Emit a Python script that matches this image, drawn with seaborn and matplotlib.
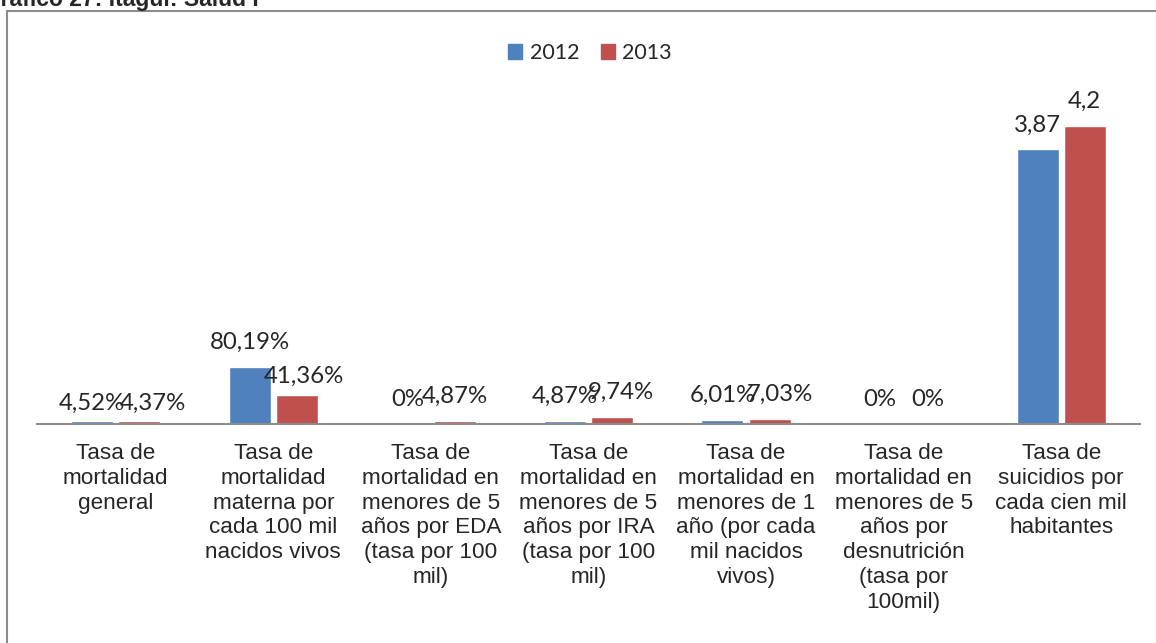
import matplotlib.pyplot as plt
import seaborn as sns
import pandas as pd

categories = ["Tasa de\nmortalidad\ngeneral",
              "Tasa de\nmortalidad\nmaterna por\ncada 100 mil\nnacidos vivos",
              "Tasa de\nmortalidad en\nmenores de 5\naños por EDA\n(tasa por 100\nmil)",
              "Tasa de\nmortalidad en\nmenores de 5\naños por IRA\n(tasa por 100\nmil)",
              "Tasa de\nmortalidad en\nmenores de 1\naño (por cada\nmil nacidos\nvivos)",
              "Tasa de\nmortalidad en\nmenores de 5\naños por\ndesnutrición\n(tasa por\n100mil)",
              "Tasa de\nsuicidios por\ncada cien mil\nhabitantes"]
values_2012 = [0.0452, 0.8019, 0.0, 0.0487, 0.0601, 0.0, 3.87]
values_2013 = [0.0437, 0.4136, 0.0487, 0.0974, 0.0703, 0.0, 4.2]
is_percent = [True, True, True, True, True, True, False]
years = ["2012", "2013"]
colors = {"2012": "#4F81BD", "2013": "#C0504D"}

# label nudges (points) the way the spreadsheet placed them
label_dx = {"2012": [0, 0, 0, 0, 0, 0, 0], "2013": [10, 5, 0, 6, 7, 0, 0]}
label_pad = {"2012": [5, 10, 10, 10, 10, 10, 10], "2013": [5, 5.5, 10, 10, 10, 10, 10]}

df = pd.DataFrame({
    "cat": categories * 2,
    "year": ["2012"] * len(categories) + ["2013"] * len(categories),
    "value": values_2012 + values_2013,
})


def fmt(v, pct):
    if pct:
        s = f"{v * 100:.2f}".rstrip("0").rstrip(".") + "%"
    else:
        s = f"{v:.2f}".rstrip("0").rstrip(".")
    return s.replace(".", ",")


sns.set_style("white")
plt.rcParams["font.family"] = ["Liberation Sans", "DejaVu Sans"]

fig = plt.figure(figsize=(11.56, 6.43), dpi=100)
ax = fig.add_axes([37 / 1156, (643 - 424) / 643, 1103 / 1156, 364 / 643])

sns.barplot(data=df, x="cat", y="value", hue="year", hue_order=years,
            palette=colors, width=0.6, gap=0.11, errorbar=None,
            saturation=1, ax=ax, legend=False)

for cont, vals, yr in zip(ax.containers, [values_2012, values_2013], years):
    labels = [fmt(v, p) for v, p in zip(vals, is_percent)]
    anns = ax.bar_label(cont, labels=labels, padding=10, fontsize=17.3, family="Lato")
    for a, dx, pad in zip(anns, label_dx[yr], label_pad[yr]):
        a.xyann = (dx, pad)

ax.set_ylim(0, 5.13)
ax.set_xlim(-0.5, len(categories) - 0.5)
ax.set_xlabel("")
ax.set_ylabel("")
ax.set_yticks([])
ax.tick_params(axis="x", length=0, pad=14, labelsize=16.2)
for lab in ax.get_xticklabels():
    lab.set_linespacing(1.23)
for s in ["top", "right", "left"]:
    ax.spines[s].set_visible(False)
ax.spines["bottom"].set_color("#8c8c8c")
ax.spines["bottom"].set_linewidth(1.5)

handles = [plt.Rectangle((0, 0), 1, 1, color=colors[y]) for y in years]
fig.legend(handles, years, loc="center", bbox_to_anchor=(590 / 1156, 1 - 53 / 643),
           ncol=2, frameon=False, handlelength=0.65, handleheight=0.65,
           handletextpad=0.35, columnspacing=1.0, prop={"family": "Lato", "size": 15.5})

# outer chart frame, running off the right and bottom of the image
fig.add_artist(plt.Rectangle((7 / 1156, -0.2), 1.2, 1.2 - 11 / 643, transform=fig.transFigure,
                             fill=False, ec="#8c8c8c", lw=1.5))

fig.text(-17 / 1156, 1 - 6 / 643, "Gráfico 27: Itagüí: Salud I", fontsize=16.5,
         fontweight="bold", ha="left", va="baseline")

fig.savefig("out.png", dpi=100)
